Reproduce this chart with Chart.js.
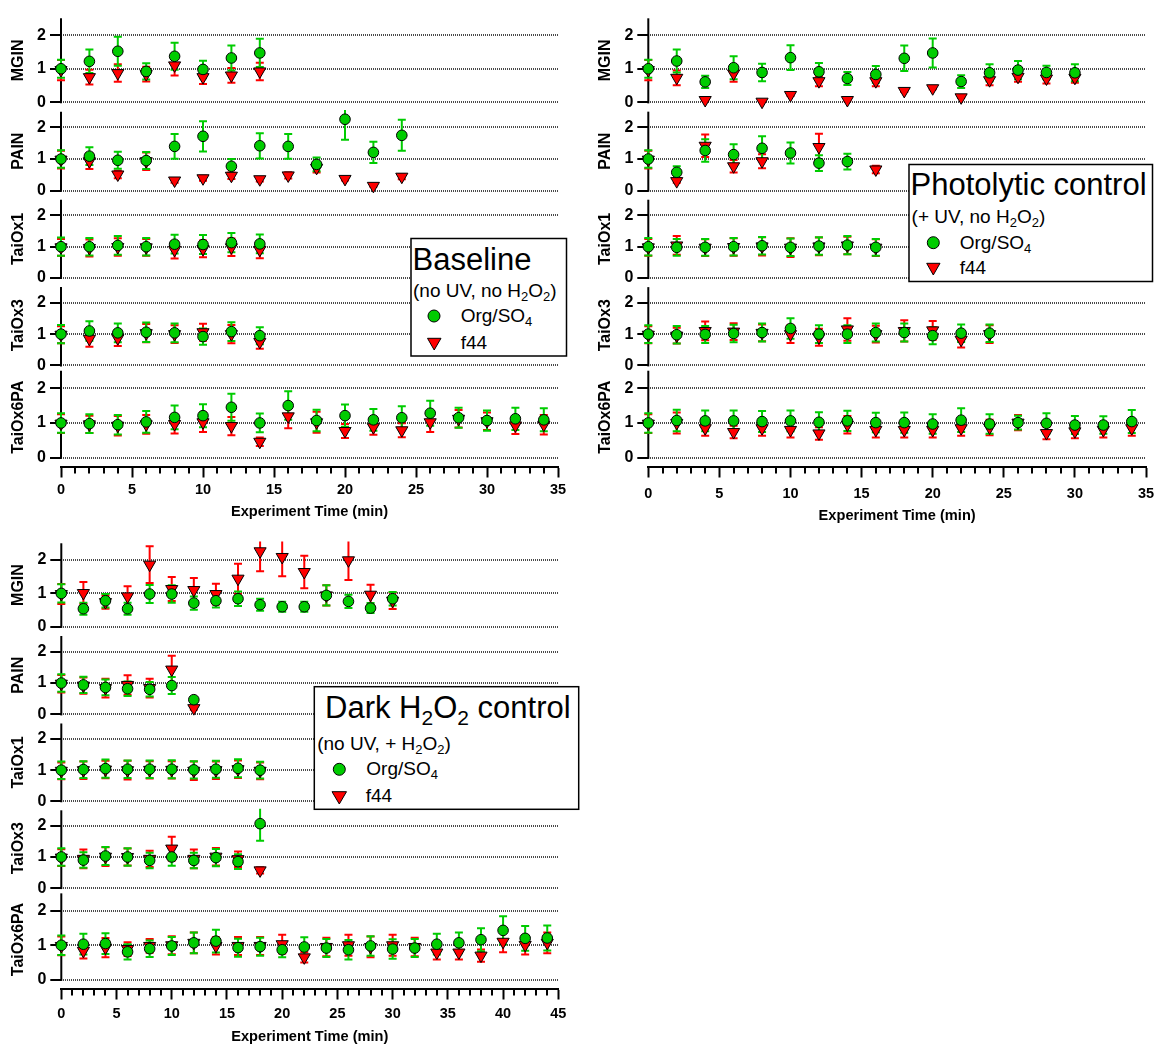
<!DOCTYPE html>
<html><head><meta charset="utf-8">
<script src="https://cdn.jsdelivr.net/npm/chart.js@4/dist/chart.umd.min.js"></script>
<style>
html,body{margin:0;padding:0;background:#fff;overflow:hidden;}
#wrap{position:relative;width:1154px;height:1045px;overflow:hidden;}
canvas{position:absolute;}
#leg{position:absolute;left:0;top:0;pointer-events:none;}
</style></head><body><div id="wrap">
<canvas id="cA" width="580" height="522" style="left:0px;top:0px"></canvas>
<canvas id="cB" width="580" height="526" style="left:584px;top:0px"></canvas>
<canvas id="cC" width="580" height="522" style="left:0px;top:525px"></canvas>
<svg id="leg" width="1154" height="1045" font-family="'Liberation Sans', Arial, Helvetica, sans-serif">
 <rect x="411" y="238.5" width="155.5" height="117.5" fill="#fff" stroke="#000" stroke-width="1.5"/>
 <text x="412.5" y="270" font-size="31">Baseline</text>
 <text x="413" y="296.7" font-size="19">(no UV, no H<tspan font-size="13" dy="4">2</tspan><tspan dy="-4">O</tspan><tspan font-size="13" dy="4">2</tspan><tspan dy="-4">)</tspan></text>
 <circle cx="434" cy="316" r="6" fill="#00cc00" stroke="#000" stroke-width="1"/>
 <text x="460.7" y="322" font-size="19">Org/SO<tspan font-size="13" dy="4">4</tspan></text>
 <path d="M427.5,338.3 L441,338.3 L434.2,350 Z" fill="#ff0000" stroke="#000" stroke-width="1"/>
 <text x="460.7" y="348.5" font-size="19">f44</text>

 <rect x="909" y="164.5" width="243.5" height="117" fill="#fff" stroke="#000" stroke-width="1.5"/>
 <text x="910.5" y="195" font-size="31">Photolytic control</text>
 <text x="911.6" y="222.7" font-size="19">(+ UV, no H<tspan font-size="13" dy="4">2</tspan><tspan dy="-4">O</tspan><tspan font-size="13" dy="4">2</tspan><tspan dy="-4">)</tspan></text>
 <circle cx="933.3" cy="242.7" r="6" fill="#00cc00" stroke="#000" stroke-width="1"/>
 <text x="959.7" y="248.5" font-size="19">Org/SO<tspan font-size="13" dy="4">4</tspan></text>
 <path d="M926.7,263.3 L940,263.3 L933.3,275 Z" fill="#ff0000" stroke="#000" stroke-width="1"/>
 <text x="959.7" y="274.3" font-size="19">f44</text>

 <rect x="314.3" y="686.7" width="264.4" height="122.6" fill="#fff" stroke="#000" stroke-width="1.5"/>
 <text x="325" y="718.3" font-size="31">Dark H<tspan font-size="21" dy="7">2</tspan><tspan dy="-7">O</tspan><tspan font-size="21" dy="7">2</tspan><tspan dy="-7"> control</tspan></text>
 <text x="317.2" y="750" font-size="19">(no UV, + H<tspan font-size="13" dy="4">2</tspan><tspan dy="-4">O</tspan><tspan font-size="13" dy="4">2</tspan><tspan dy="-4">)</tspan></text>
 <circle cx="339.3" cy="769.3" r="6" fill="#00cc00" stroke="#000" stroke-width="1"/>
 <text x="366.3" y="775" font-size="19">Org/SO<tspan font-size="13" dy="4">4</tspan></text>
 <path d="M332,791.7 L346.5,791.7 L339.3,804 Z" fill="#ff0000" stroke="#000" stroke-width="1"/>
 <text x="365.7" y="801.7" font-size="19">f44</text>
</svg>
</div>
<script>
// ---------------- DATA ----------------
const SUBPLOTS = ['MGIN', 'PAIN', 'TaiOx1', 'TaiOx3', 'TaiOx6PA'];
const X_TITLE = 'Experiment Time (min)';
const Y_TICKS = [0, 1, 2];
const X_TICKS_35 = [0, 5, 10, 15, 20, 25, 30, 35];
const X_TICKS_45 = [0, 5, 10, 15, 20, 25, 30, 35, 40, 45];

// Baseline (no UV, no H2O2)
const base_MGIN_t      = [0, 2, 4, 6, 8, 10, 12, 14];
const base_MGIN_org    = [1.00, 1.22, 1.52, 0.92, 1.37, 0.98, 1.32, 1.47];
const base_MGIN_orgErr = [0.27, 0.35, 0.43, 0.24, 0.40, 0.26, 0.37, 0.42];
const base_MGIN_f44    = [0.96, 0.75, 0.87, 0.84, 1.10, 0.75, 0.80, 0.92];
const base_MGIN_f44Err = [0.30, 0.22, 0.26, 0.22, 0.30, 0.20, 0.22, 0.26];

const base_PAIN_t      = [0, 2, 4, 6, 8, 10, 12, 14, 16, 18, 20, 22, 24];
const base_PAIN_org    = [1.00, 1.09, 0.96, 0.95, 1.40, 1.72, 0.77, 1.42, 1.40, 0.83, 2.26, 1.21, 1.75];
const base_PAIN_orgErr = [0.28, 0.28, 0.27, 0.27, 0.39, 0.48, 0.23, 0.40, 0.39, 0.22, 0.65, 0.34, 0.49];
const base_PAIN_f44    = [0.98, 0.93, 0.51, 0.93, 0.32, 0.39, 0.47, 0.36, 0.48, 0.72, 0.37, 0.15, 0.44];
const base_PAIN_f44Err = [0.28, 0.25, 0.12, 0.28, 0.07, 0.08, 0.10, 0.07, 0.10, 0.15, 0.05, 0.03, 0.08];

const base_Ox1_t      = [0, 2, 4, 6, 8, 10, 12, 14];
const base_Ox1_org    = [1.00, 1.00, 1.04, 1.00, 1.08, 1.07, 1.13, 1.09];
const base_Ox1_orgErr = [0.29, 0.28, 0.30, 0.28, 0.30, 0.30, 0.31, 0.30];
const base_Ox1_f44    = [0.98, 0.96, 0.99, 0.98, 0.90, 0.93, 0.98, 0.90];
const base_Ox1_f44Err = [0.27, 0.27, 0.28, 0.27, 0.28, 0.27, 0.28, 0.27];

const base_Ox3_t      = [0, 2, 4, 6, 8, 10, 12, 14];
const base_Ox3_org    = [1.00, 1.10, 1.04, 1.06, 1.04, 0.92, 1.08, 0.95];
const base_Ox3_orgErr = [0.29, 0.31, 0.30, 0.31, 0.30, 0.26, 0.30, 0.27];
const base_Ox3_f44    = [0.98, 0.85, 0.87, 1.03, 1.00, 1.06, 1.00, 0.75];
const base_Ox3_f44Err = [0.27, 0.25, 0.25, 0.29, 0.28, 0.27, 0.29, 0.22];

const base_Ox6_t      = [0, 2, 4, 6, 8, 10, 12, 14, 16, 18, 20, 22, 24, 26, 28, 30, 32, 34];
const base_Ox6_org    = [1.00, 0.98, 0.95, 1.03, 1.16, 1.21, 1.45, 1.00, 1.50, 1.07, 1.21, 1.09, 1.15, 1.28, 1.15, 1.07, 1.12, 1.09];
const base_Ox6_orgErr = [0.28, 0.27, 0.28, 0.31, 0.34, 0.33, 0.39, 0.27, 0.41, 0.31, 0.32, 0.31, 0.33, 0.36, 0.29, 0.29, 0.32, 0.33];
const base_Ox6_f44    = [0.98, 0.96, 0.92, 0.96, 0.97, 1.02, 0.91, 0.46, 1.19, 1.02, 0.77, 0.88, 0.79, 1.02, 1.12, 1.05, 0.93, 0.95];
const base_Ox6_f44Err = [0.27, 0.25, 0.28, 0.27, 0.27, 0.28, 0.26, 0.12, 0.34, 0.30, 0.20, 0.22, 0.20, 0.28, 0.25, 0.25, 0.25, 0.28];

// Photolytic control (+ UV, no H2O2)
const photo_MGIN_t      = [0, 2, 4, 6, 8, 10, 12, 14, 16, 18, 20, 22, 24, 26, 28, 30];
const photo_MGIN_org    = [1.00, 1.23, 0.61, 1.03, 0.89, 1.33, 0.91, 0.71, 0.83, 1.31, 1.47, 0.62, 0.88, 0.96, 0.89, 0.88];
const photo_MGIN_orgErr = [0.27, 0.34, 0.18, 0.34, 0.26, 0.37, 0.26, 0.19, 0.25, 0.38, 0.43, 0.19, 0.25, 0.27, 0.20, 0.25];
const photo_MGIN_f44    = [0.96, 0.73, 0.07, 0.86, 0.02, 0.22, 0.63, 0.07, 0.63, 0.34, 0.42, 0.15, 0.66, 0.76, 0.71, 0.73];
const photo_MGIN_f44Err = [0.30, 0.22, 0.02, 0.25, 0.01, 0.03, 0.15, 0.02, 0.15, 0.03, 0.03, 0.02, 0.15, 0.15, 0.15, 0.15];

const photo_PAIN_t      = [0, 2, 4, 6, 8, 10, 12, 14, 16];
const photo_PAIN_org    = [1.00, 0.58, 1.27, 1.14, 1.34, 1.19, 0.87, 0.92, null];
const photo_PAIN_orgErr = [0.28, 0.19, 0.36, 0.33, 0.38, 0.33, 0.25, 0.25, null];
const photo_PAIN_f44    = [0.98, 0.30, 1.42, 0.77, 0.93, null, 1.38, null, 0.67];
const photo_PAIN_f44Err = [0.28, 0.05, 0.36, 0.20, 0.22, null, 0.42, null, 0.12];

const photo_Ox1_t      = [0, 2, 4, 6, 8, 10, 12, 14, 16];
const photo_Ox1_org    = [1.00, 0.98, 0.98, 1.00, 1.03, 0.98, 1.02, 1.05, 0.98];
const photo_Ox1_orgErr = [0.28, 0.27, 0.27, 0.28, 0.28, 0.28, 0.28, 0.29, 0.27];
const photo_Ox1_f44    = [0.98, 1.04, 0.97, 0.99, 1.01, 0.97, 1.01, 1.04, 0.97];
const photo_Ox1_f44Err = [0.27, 0.30, 0.27, 0.28, 0.29, 0.30, 0.28, 0.28, 0.27];

const photo_Ox3_t      = [0, 2, 4, 6, 8, 10, 12, 14, 16, 18, 20, 22, 24];
const photo_Ox3_org    = [1.00, 0.98, 0.99, 1.02, 1.05, 1.18, 1.00, 1.00, 1.05, 1.05, 0.95, 1.03, 1.03];
const photo_Ox3_orgErr = [0.28, 0.28, 0.27, 0.28, 0.29, 0.33, 0.28, 0.28, 0.29, 0.29, 0.27, 0.28, 0.28];
const photo_Ox3_f44    = [0.98, 0.95, 1.10, 1.08, 1.04, 1.00, 0.90, 1.15, 1.00, 1.10, 1.12, 0.82, 1.00];
const photo_Ox3_f44Err = [0.27, 0.25, 0.30, 0.27, 0.27, 0.28, 0.27, 0.36, 0.27, 0.34, 0.30, 0.25, 0.28];

const photo_Ox6_t      = [0, 2, 4, 6, 8, 10, 12, 14, 16, 18, 20, 22, 24, 26, 28, 30, 32, 34];
const photo_Ox6_org    = [1.00, 1.07, 1.06, 1.06, 1.04, 1.06, 1.02, 1.06, 1.01, 1.01, 0.97, 1.08, 0.97, 1.01, 0.99, 0.94, 0.94, 1.04];
const photo_Ox6_orgErr = [0.28, 0.31, 0.30, 0.30, 0.30, 0.30, 0.29, 0.29, 0.28, 0.29, 0.28, 0.34, 0.28, 0.20, 0.29, 0.26, 0.25, 0.33];
const photo_Ox6_f44    = [0.98, 1.00, 0.85, 0.74, 0.85, 0.80, 0.70, 0.95, 0.80, 0.80, 0.80, 0.85, 0.87, 1.01, 0.71, 0.76, 0.80, 0.85];
const photo_Ox6_f44Err = [0.27, 0.30, 0.22, 0.18, 0.22, 0.22, 0.18, 0.25, 0.22, 0.22, 0.22, 0.22, 0.22, 0.22, 0.18, 0.20, 0.22, 0.22];

// Dark H2O2 control (no UV, + H2O2)
const dark_MGIN_t      = [0, 2, 4, 6, 8, 10, 12, 14, 16, 18, 20, 22, 24, 26, 28, 30];
const dark_MGIN_org    = [1.00, 0.54, 0.78, 0.54, 0.98, 0.98, 0.71, 0.78, 0.84, 0.66, 0.60, 0.60, 0.94, 0.76, 0.56, 0.84];
const dark_MGIN_orgErr = [0.27, 0.18, 0.20, 0.18, 0.27, 0.26, 0.20, 0.20, 0.22, 0.18, 0.15, 0.15, 0.30, 0.20, 0.15, 0.20];
const dark_MGIN_f44    = [0.98, 1.01, 0.74, 0.91, 1.86, 1.13, 1.10, 0.98, 1.44, 2.26, 2.09, 1.64, 0.94, 1.99, 0.96, 0.78];
const dark_MGIN_f44Err = [0.30, 0.33, 0.20, 0.30, 0.55, 0.36, 0.36, 0.31, 0.45, 0.60, 0.58, 0.49, 0.30, 0.59, 0.30, 0.25];

const dark_PAIN_t      = [0, 2, 4, 6, 8, 10, 12];
const dark_PAIN_org    = [1.00, 0.94, 0.86, 0.82, 0.80, 0.92, 0.47];
const dark_PAIN_orgErr = [0.28, 0.26, 0.25, 0.23, 0.23, 0.27, 0.05];
const dark_PAIN_f44    = [0.98, 0.92, 0.84, 0.94, 0.84, 1.43, 0.20];
const dark_PAIN_f44Err = [0.28, 0.26, 0.30, 0.31, 0.30, 0.44, 0.05];

const dark_Ox1_t      = [0, 2, 4, 6, 8, 10, 12, 14, 16, 18];
const dark_Ox1_org    = [1.00, 1.02, 1.05, 1.03, 1.03, 1.03, 1.01, 1.03, 1.06, 1.00];
const dark_Ox1_orgErr = [0.28, 0.27, 0.29, 0.28, 0.28, 0.29, 0.28, 0.27, 0.29, 0.27];
const dark_Ox1_f44    = [0.98, 1.00, 1.02, 1.00, 1.01, 1.01, 0.98, 1.00, 1.03, 0.98];
const dark_Ox1_f44Err = [0.27, 0.28, 0.28, 0.30, 0.28, 0.28, 0.30, 0.28, 0.28, 0.27];

const dark_Ox3_t      = [0, 2, 4, 6, 8, 10, 12, 14, 16, 18];
const dark_Ox3_org    = [1.00, 0.90, 1.03, 1.00, 0.89, 1.00, 0.89, 0.98, 0.85, 2.07];
const dark_Ox3_orgErr = [0.28, 0.25, 0.29, 0.28, 0.25, 0.28, 0.25, 0.28, 0.24, 0.55];
const dark_Ox3_f44    = [0.98, 0.94, 1.01, 1.00, 0.94, 1.27, 0.94, 1.01, 0.93, 0.57];
const dark_Ox3_f44Err = [0.27, 0.30, 0.30, 0.27, 0.26, 0.38, 0.30, 0.28, 0.25, 0.10];

const dark_Ox6_t      = [0, 2, 4, 6, 8, 10, 12, 14, 16, 18, 20, 22, 24, 26, 28, 30, 32, 34, 36, 38, 40, 42, 44];
const dark_Ox6_org    = [1.00, 1.03, 1.05, 0.81, 0.90, 0.98, 1.07, 1.12, 0.93, 0.96, 0.87, 0.95, 0.92, 0.87, 0.98, 0.89, 0.92, 1.03, 1.07, 1.16, 1.43, 1.20, 1.21];
const dark_Ox6_orgErr = [0.28, 0.30, 0.30, 0.22, 0.24, 0.26, 0.30, 0.33, 0.26, 0.26, 0.22, 0.28, 0.26, 0.28, 0.28, 0.28, 0.26, 0.30, 0.30, 0.33, 0.41, 0.36, 0.36];
const dark_Ox6_f44    = [0.98, 0.84, 0.93, 0.89, 0.98, 1.00, 1.07, 0.98, 0.98, 0.98, 1.03, 0.65, 0.95, 1.00, 0.95, 1.00, 0.95, 0.79, 0.79, 0.70, 1.10, 1.01, 1.07];
const dark_Ox6_f44Err = [0.27, 0.22, 0.28, 0.20, 0.20, 0.26, 0.30, 0.25, 0.26, 0.26, 0.27, 0.15, 0.27, 0.30, 0.30, 0.30, 0.27, 0.20, 0.20, 0.18, 0.30, 0.28, 0.30];

// ---------------- LAYOUT / STYLE ----------------
const SUB_MAX = [2.64, 2.645, 2.645, 2.645, 2.58];
const SUB_MIN = [-0.14, -0.145, -0.145, -0.08, -0.25];
const SUB_WEIGHT = [95.5, 90.0, 89.3, 87.2, 100.7];
const AXIS_TOP = 2.5, ERR_CLIP = 2.55;
const GREEN = '#00cc00', RED = '#ff0000';
const FONT = "'Liberation Sans', Arial, Helvetica, sans-serif";

function series(t, v, e) {
  const out = [];
  for (let i = 0; i < t.length; i++) {
    if (v[i] !== null && v[i] !== undefined) out.push({x: t[i], y: v[i], e: e[i]});
  }
  return out;
}

const decorPlugin = {
  id: 'decor',
  beforeDatasetsDraw(chart) {
    const ctx = chart.ctx, ca = chart.chartArea;
    ctx.save();
    ctx.strokeStyle = '#000';
    ctx.lineWidth = 2;
    ctx.setLineDash([]);
    SUBPLOTS.forEach((n, i) => {
      const s = chart.scales['y' + i];
      ctx.beginPath();
      ctx.moveTo(ca.left, s.getPixelForValue(AXIS_TOP));
      ctx.lineTo(ca.left, s.getPixelForValue(0) + 1);
      ctx.stroke();
    });
    const xs = chart.scales.x;
    for (let v = xs.min; v <= xs.max; v += 1) {
      if (v % 5 === 0) continue;
      const px = Math.round(xs.getPixelForValue(v));
      ctx.beginPath();
      ctx.moveTo(px, xs.top);
      ctx.lineTo(px, xs.top + 7);
      ctx.stroke();
    }
    ['f44', 'org'].forEach(kind => {
      chart.data.datasets.forEach((ds, di) => {
        if (ds.kind !== kind) return;
        const meta = chart.getDatasetMeta(di);
        const ys = chart.scales[ds.yAxisID];
        ctx.strokeStyle = ds.errColor;
        ctx.lineWidth = 2;
        meta.data.forEach((pt, j) => {
          const d = ds.data[j];
          if (!d || d.e == null) return;
          let hi = d.y + d.e, lo = d.y - d.e, capHi = true;
          if (hi > ERR_CLIP) { hi = ERR_CLIP; capHi = false; }
          const x = pt.x, yh = ys.getPixelForValue(hi), yl = ys.getPixelForValue(lo);
          ctx.beginPath();
          ctx.moveTo(x, yh); ctx.lineTo(x, yl);
          if (capHi) { ctx.moveTo(x - 4, yh); ctx.lineTo(x + 4, yh); }
          ctx.moveTo(x - 4, yl); ctx.lineTo(x + 4, yl);
          ctx.stroke();
        });
      });
    });
    ctx.restore();
  }
};

function buildChart(canvasId, geo, subs, xmax, xticks) {
  const scales = {};
  const datasets = [];
  const chartTop = geo.top25 - (SUB_MAX[0] - AXIS_TOP) * 33.7;
  SUBPLOTS.forEach((name, i) => {
    const id = 'y' + i;
    scales[id] = {
      type: 'linear', position: 'left', stack: 'panel', stackWeight: SUB_WEIGHT[i], weight: 10 - i,
      min: SUB_MIN[i], max: SUB_MAX[i],
      afterBuildTicks: s => { s.ticks = Y_TICKS.map(v => ({value: v})); },
      afterFit: s => { s.width = geo.axisX - geo.left; },
      border: {display: false, dash: [1, 1]},
      grid: {color: '#4a4a4a', lineWidth: 2, borderDash: [1, 1], drawTicks: true, tickLength: 11,
             tickColor: '#000', tickWidth: 2, tickBorderDash: []},
      ticks: {font: {family: FONT, size: 16, weight: 'bold'}, color: '#000', padding: 4},
      title: {display: true, text: name, color: '#000', font: {family: FONT, size: 16, weight: 'bold'},
              padding: {top: (geo.axisX - 42.6) - geo.left - 9.6, bottom: 0}}
    };
    const s = subs[i];
    datasets.push({label: 'Org/SO4', kind: 'org', errColor: GREEN, yAxisID: id, xAxisID: 'x',
      data: series(s.t, s.org, s.orgErr), pointStyle: 'circle', pointRadius: 5.3, pointHoverRadius: 5.3,
      pointBackgroundColor: GREEN, pointBorderColor: '#000', pointBorderWidth: 1, showLine: false, order: 0, clip: false});
    datasets.push({label: 'f44', kind: 'f44', errColor: RED, yAxisID: id, xAxisID: 'x',
      data: series(s.t, s.f44, s.f44Err), pointStyle: 'triangle', pointRadius: 7, pointHoverRadius: 7, pointRotation: 180,
      pointBackgroundColor: RED, pointBorderColor: '#000', pointBorderWidth: 1, showLine: false, order: 1, clip: false});
  });
  scales.x = {
    type: 'linear', position: 'bottom', min: 0, max: xmax,
    afterBuildTicks: s => { s.ticks = xticks.map(v => ({value: v})); },
    afterFit: s => { s.height = geo.top + geo.h - geo.xAxisY; },
    ticks: {font: {family: FONT, size: 14.5, weight: 'bold'}, color: '#000', padding: geo.xTickPad, maxRotation: 0, autoSkip: false},
    grid: {drawOnChartArea: false, drawTicks: true, tickLength: 11, tickWidth: 2, tickColor: '#000'},
    border: {display: true, color: '#000', width: 2},
    title: {display: true, text: X_TITLE, color: '#000', font: {family: FONT, size: 14.6, weight: 'bold'},
            padding: {top: 0, bottom: geo.xTitlePad}}
  };
  return new Chart(document.getElementById(canvasId), {
    type: 'scatter',
    data: {datasets},
    options: {
      responsive: false, animation: false, events: [],
      layout: {padding: {top: chartTop - geo.top, right: geo.left + geo.w - geo.plotRight, bottom: 0, left: 0}},
      plugins: {legend: {display: false}, tooltip: {enabled: false}},
      scales
    },
    plugins: [decorPlugin]
  });
}

const panelBase = [
  {t: base_MGIN_t, org: base_MGIN_org, orgErr: base_MGIN_orgErr, f44: base_MGIN_f44, f44Err: base_MGIN_f44Err},
  {t: base_PAIN_t, org: base_PAIN_org, orgErr: base_PAIN_orgErr, f44: base_PAIN_f44, f44Err: base_PAIN_f44Err},
  {t: base_Ox1_t, org: base_Ox1_org, orgErr: base_Ox1_orgErr, f44: base_Ox1_f44, f44Err: base_Ox1_f44Err},
  {t: base_Ox3_t, org: base_Ox3_org, orgErr: base_Ox3_orgErr, f44: base_Ox3_f44, f44Err: base_Ox3_f44Err},
  {t: base_Ox6_t, org: base_Ox6_org, orgErr: base_Ox6_orgErr, f44: base_Ox6_f44, f44Err: base_Ox6_f44Err}
];
const panelPhoto = [
  {t: photo_MGIN_t, org: photo_MGIN_org, orgErr: photo_MGIN_orgErr, f44: photo_MGIN_f44, f44Err: photo_MGIN_f44Err},
  {t: photo_PAIN_t, org: photo_PAIN_org, orgErr: photo_PAIN_orgErr, f44: photo_PAIN_f44, f44Err: photo_PAIN_f44Err},
  {t: photo_Ox1_t, org: photo_Ox1_org, orgErr: photo_Ox1_orgErr, f44: photo_Ox1_f44, f44Err: photo_Ox1_f44Err},
  {t: photo_Ox3_t, org: photo_Ox3_org, orgErr: photo_Ox3_orgErr, f44: photo_Ox3_f44, f44Err: photo_Ox3_f44Err},
  {t: photo_Ox6_t, org: photo_Ox6_org, orgErr: photo_Ox6_orgErr, f44: photo_Ox6_f44, f44Err: photo_Ox6_f44Err}
];
const panelDark = [
  {t: dark_MGIN_t, org: dark_MGIN_org, orgErr: dark_MGIN_orgErr, f44: dark_MGIN_f44, f44Err: dark_MGIN_f44Err},
  {t: dark_PAIN_t, org: dark_PAIN_org, orgErr: dark_PAIN_orgErr, f44: dark_PAIN_f44, f44Err: dark_PAIN_f44Err},
  {t: dark_Ox1_t, org: dark_Ox1_org, orgErr: dark_Ox1_orgErr, f44: dark_Ox1_f44, f44Err: dark_Ox1_f44Err},
  {t: dark_Ox3_t, org: dark_Ox3_org, orgErr: dark_Ox3_orgErr, f44: dark_Ox3_f44, f44Err: dark_Ox3_f44Err},
  {t: dark_Ox6_t, org: dark_Ox6_org, orgErr: dark_Ox6_orgErr, f44: dark_Ox6_f44, f44Err: dark_Ox6_f44Err}
];

buildChart('cA', {left: 0, top: 0, w: 580, h: 522, axisX: 61, plotRight: 558, top25: 12.4, xAxisY: 466.5, xTickPad: 4, xTitlePad: 1.3}, panelBase, 35, X_TICKS_35);
buildChart('cB', {left: 584, top: 0, w: 580, h: 526, axisX: 648.3, plotRight: 1146, top25: 15.5, xAxisY: 466.5, xTickPad: 8, xTitlePad: 1.3}, panelPhoto, 35, X_TICKS_35);
buildChart('cC', {left: 0, top: 525, w: 580, h: 522, axisX: 61.3, plotRight: 558.3, top25: 537.3, xAxisY: 988.5, xTickPad: 6, xTitlePad: 1.6}, panelDark, 45, X_TICKS_45);
</script>
</body></html>
